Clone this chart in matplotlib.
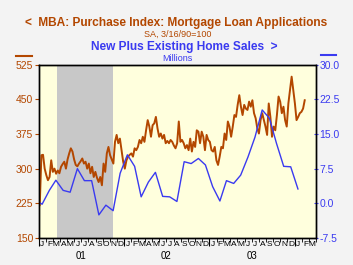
# MBA purchase index vs. new plus existing home sales, 2001 - early 2004
import matplotlib
matplotlib.use("Agg")
import matplotlib.pyplot as plt
import matplotlib.dates as mdates
import matplotlib.transforms as mtransforms
import pandas as pd

plt.rcParams["font.family"] = ["Liberation Sans", "DejaVu Sans"]

BROWN = "#b34700"
BLUE = "#3a3af0"

# Weekly MBA purchase index (SA, 3/16/90=100)
MBA_START = "2001-01-05"
MBA_VALUES = [
    221, 329, 330, 300, 286, 275, 282, 318, 293, 300, 289, 296, 290, 304, 310,
    315, 300, 320, 333, 344, 337, 320, 308, 305, 311, 316, 322, 311, 315, 300,
    311, 290, 304, 282, 293, 280, 271, 282, 264, 311, 293, 333, 347, 329, 320,
    311, 358, 373, 355, 365, 340, 315, 300, 318, 326, 330, 333, 326, 344, 340,
    347, 362, 355, 369, 358, 383, 405, 391, 369, 394, 398, 412, 387, 369, 376,
    365, 373, 355, 360, 355, 362, 358, 350,
    344, 355, 402, 358, 362, 355, 344, 351, 340, 365, 337, 358, 347, 383, 380,
    355, 380, 369, 340, 373, 362, 358, 340, 337, 347, 318, 308, 326, 347, 344,
    376, 362, 402, 391, 369, 391, 416, 412, 438, 459, 434, 416, 438,
    430, 427, 445, 434, 448, 420, 409, 387, 376, 405, 420, 405, 391, 373, 441,
    412, 369, 391, 383, 416, 456, 445, 420, 434, 405, 391, 441, 470, 499, 470,
    441, 405, 412, 420, 423, 430, 448,
]

# Monthly new plus existing home sales (millions), Dec 2000 - Jan 2004
SALES_START = "2000-12-01"
SALES_VALUES = [
    0.8, -0.2, 2.8, 5.0, 2.8, 2.4, 7.5, 4.9, 4.9, -2.5, -0.4, -1.6, 6.5,
    10.5, 8.0, 1.4, 4.6, 6.7, 1.5, 1.4, 0.4, 9.0, 8.6, 9.7, 8.3,
    3.6, 0.5, 4.9, 4.3, 6.1, 10.0, 14.3, 20.2, 18.4, 13.0, 8.0, 7.9, 3.1,
]

LEFT_TICKS = [150, 225, 300, 375, 450, 525]
RIGHT_TICKS = [-7.5, 0.0, 7.5, 15.0, 22.5, 30.0]
MONTH_LETTERS = ["J", "F", "M", "A", "M", "J", "J", "A", "S", "O", "N", "D"]
YEAR_LABELS = ["01", "02", "03"]
RECESSION = ("2001-03-21", "2001-11-15")

mba_dates = pd.date_range(MBA_START, periods=len(MBA_VALUES), freq="7D")
# monthly points sit mid-month
sales_dates = pd.date_range(SALES_START, periods=len(SALES_VALUES), freq="MS") + pd.Timedelta(days=14)

fig = plt.figure(figsize=(3.53, 2.65), dpi=100, facecolor="#f3f3f3")
ax = fig.add_axes([0.110, 0.102, 0.785, 0.654])
ax.set_facecolor("#ffffdd")

x0, x1 = pd.Timestamp("2001-01-01"), pd.Timestamp("2004-04-01")
ax.axvspan(pd.Timestamp(RECESSION[0]), pd.Timestamp(RECESSION[1]), color="#c8c8c8", lw=0, zorder=0)
ax.plot(mba_dates, MBA_VALUES, color=BROWN, lw=1.4, zorder=3)
ax.set_xlim(x0, x1)
ax.set_ylim(150, 525)
ax.set_yticks(LEFT_TICKS)
ax.set_yticklabels([str(v) for v in LEFT_TICKS])
ax.tick_params(axis="y", colors=BROWN, labelsize=7.5, length=3, direction="out", pad=1)

ax2 = ax.twinx()
ax2.plot(sales_dates, SALES_VALUES, color=BLUE, lw=1.0)
ax2.set_xlim(x0, x1)
ax2.set_ylim(-7.5, 30)
ax2.set_yticks(RIGHT_TICKS)
ax2.set_yticklabels(["%.1f" % v for v in RIGHT_TICKS])
ax2.tick_params(axis="y", colors=BLUE, labelsize=7.5, length=3, direction="inout", pad=1)

for a in (ax, ax2):
    for s in a.spines.values():
        s.set_color("black")
        s.set_linewidth(1.0)

# x axis: month ticks, year ticks longer, letters and years as text
month_starts = pd.date_range(x0, x1, freq="MS")
ax.xaxis.set_major_locator(mdates.YearLocator())
ax.xaxis.set_minor_locator(mdates.MonthLocator())
ax.xaxis.set_major_formatter(plt.NullFormatter())
ax.tick_params(axis="x", which="major", length=6, direction="out", color="black")
ax.tick_params(axis="x", which="minor", length=3, direction="out", color="black")

trans = mtransforms.blended_transform_factory(ax.transData, ax.transAxes)
for d in month_starts[:-1]:
    mid = d + pd.Timedelta(days=15)
    ax.text(mid, -0.020, MONTH_LETTERS[d.month - 1], transform=trans, ha="center",
            va="top", fontsize=6, color="black")
for i, lab in enumerate(YEAR_LABELS):
    ax.text(pd.Timestamp("%d-07-01" % (2001 + i)), -0.078, lab, transform=trans,
            ha="center", va="top", fontsize=7, color="black")

# titles
fig.text(0.500, 0.913, "<  MBA: Purchase Index: Mortgage Loan Applications", ha="center",
         va="center", fontsize=8.6, fontweight="bold", color=BROWN)
fig.text(0.502, 0.871, "SA, 3/16/90=100", ha="center", va="center", fontsize=6.5, color=BROWN)
fig.text(0.521, 0.822, "New Plus Existing Home Sales  >", ha="center", va="center",
         fontsize=8.6, fontweight="bold", color=BLUE)
fig.text(0.502, 0.781, "Millions", ha="center", va="center", fontsize=6.5, color=BLUE)

# axis colour markers
fig.add_artist(plt.Line2D([16 / 353, 32 / 353], [1 - 55.5 / 265] * 2, color=BROWN, lw=1.5))
fig.add_artist(plt.Line2D([321 / 353, 336 / 353], [1 - 55 / 265] * 2, color=BLUE, lw=1.5))

fig.savefig("out.png", dpi=100, facecolor=fig.get_facecolor())
